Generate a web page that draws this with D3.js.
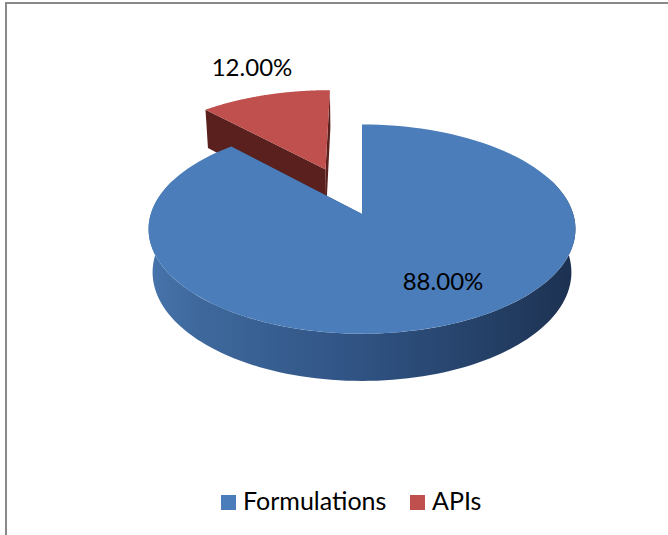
<!DOCTYPE html>
<html>
<head>
<meta charset="utf-8">
<script src="https://cdn.jsdelivr.net/npm/d3@7/dist/d3.min.js"></script>
<style>
  html, body { margin: 0; padding: 0; background: #fff; }
  svg { display: block; }
</style>
</head>
<body>
<svg id="chart" width="668" height="535"></svg>
<script>
// Share of products by type
const categories = ["Formulations", "APIs"];
const values = [88, 12];
const valueLabels = ["88.00%", "12.00%"];

const topColors = ["#4a7dba", "#c0504d"];
const radialSideColors = ["#2c4d7a", "#5a201d"];
const explode = [0, 0.5];

const W = 668, H = 535;
const svg = d3.select("#chart");

// frame
svg.append("path")
  .attr("d", `M6,${H} L6,3 L${W},3`)
  .attr("fill", "none")
  .attr("stroke", "#898989")
  .attr("stroke-width", 2);

// simple perspective camera for the tilted disc (unit radius)
const cx = 362, cy = 214;
const phi = 29 * Math.PI / 180;
const D = 6.06, f = 1280, depthH = 0.236;
const sinP = Math.sin(phi), cosP = Math.cos(phi);

// X: right, Yd: towards viewer, Z: up
function proj(X, Yd, Z) {
  const v = Yd * sinP - Z * cosP;
  const depth = D - Yd * cosP - Z * sinP;
  return [cx + f * X / depth, cy + f * v / depth];
}
function rimPoint(theta, r, off, Z) {
  return proj(off[0] + r * Math.sin(theta), off[1] - r * Math.cos(theta), Z);
}

const pie = d3.pie().sort(null).startAngle(0).endAngle(2 * Math.PI);
const arcs = pie(values);

const defs = svg.append("defs");
const sideGrad = defs.append("linearGradient")
  .attr("id", "sideBlue")
  .attr("gradientUnits", "userSpaceOnUse")
  .attr("x1", 150).attr("x2", 580).attr("y1", 0).attr("y2", 0);
[[0, "#4673ab"], [0.12, "#3e689c"], [0.5, "#2f5282"], [0.8, "#243f65"], [1, "#1c3050"]]
  .forEach(([o, c]) => sideGrad.append("stop").attr("offset", o).attr("stop-color", c));

const sideGradRed = defs.append("linearGradient")
  .attr("id", "sideRed")
  .attr("gradientUnits", "userSpaceOnUse")
  .attr("x1", 200).attr("x2", 330).attr("y1", 0).attr("y2", 0);
[[0, "#62241f"], [1, "#4e1b18"]]
  .forEach(([o, c]) => sideGradRed.append("stop").attr("offset", o).attr("stop-color", c));
const sideFills = ["url(#sideBlue)", "url(#sideRed)"];

const line = d3.line();
const N = 120;

function sliceOffset(i) {
  const a = arcs[i];
  const mid = (a.startAngle + a.endAngle) / 2;
  return [explode[i] * Math.sin(mid), -explode[i] * Math.cos(mid)];
}

function drawSlice(i, g) {
  const a = arcs[i];
  const off = sliceOffset(i);
  const apexTop = proj(off[0], off[1], 0);
  const apexBot = proj(off[0], off[1], -depthH);

  // radial side faces on the end edge and start edge
  [a.endAngle, a.startAngle].forEach(t => {
    const pts = [apexTop, rimPoint(t, 1, off, 0), rimPoint(t, 1, off, -depthH), apexBot];
    g.append("path").attr("d", line(pts) + "Z").attr("fill", radialSideColors[i]);
  });

  // front curved side
  const s0 = Math.max(a.startAngle, Math.PI / 2 - 0.35);
  const s1 = Math.min(a.endAngle, 3 * Math.PI / 2 + 0.35);
  if (s1 > s0) {
    const topPts = d3.range(N + 1).map(k => rimPoint(s0 + (s1 - s0) * k / N, 1, off, 0));
    const botPts = d3.range(N + 1).map(k => rimPoint(s0 + (s1 - s0) * k / N, 1, off, -depthH)).reverse();
    g.append("path").attr("d", line(topPts.concat(botPts)) + "Z").attr("fill", sideFills[i]);
  }

  // top face
  const arcPts = d3.range(N + 1).map(k => rimPoint(a.startAngle + (a.endAngle - a.startAngle) * k / N, 1, off, 0));
  g.append("path").attr("d", line([apexTop].concat(arcPts)) + "Z").attr("fill", topColors[i]);
}

const pieG = svg.append("g");
// back slice first, then the front one
drawSlice(1, pieG);
drawSlice(0, pieG);

// value labels
const labelPos = [[443, 290], [252, 76]];
svg.selectAll("text.val")
  .data(valueLabels)
  .join("text")
  .attr("class", "val")
  .attr("x", (d, i) => labelPos[i][0])
  .attr("y", (d, i) => labelPos[i][1])
  .attr("text-anchor", "middle")
  .attr("font-family", "Lato, 'Open Sans', sans-serif")
  .attr("font-size", 24)
  .attr("fill", "#000")
  .text(d => d);

// legend
const legend = svg.append("g");
const legendX = [221, 410];
categories.forEach((c, i) => {
  legend.append("rect")
    .attr("x", legendX[i]).attr("y", 495)
    .attr("width", 15).attr("height", 15)
    .attr("fill", topColors[i]);
  legend.append("text")
    .attr("x", legendX[i] + 22).attr("y", 510)
    .attr("font-family", "Lato, 'Open Sans', sans-serif")
    .attr("font-size", 25)
    .attr("fill", "#000")
    .text(c);
});
</script>
</body>
</html>
